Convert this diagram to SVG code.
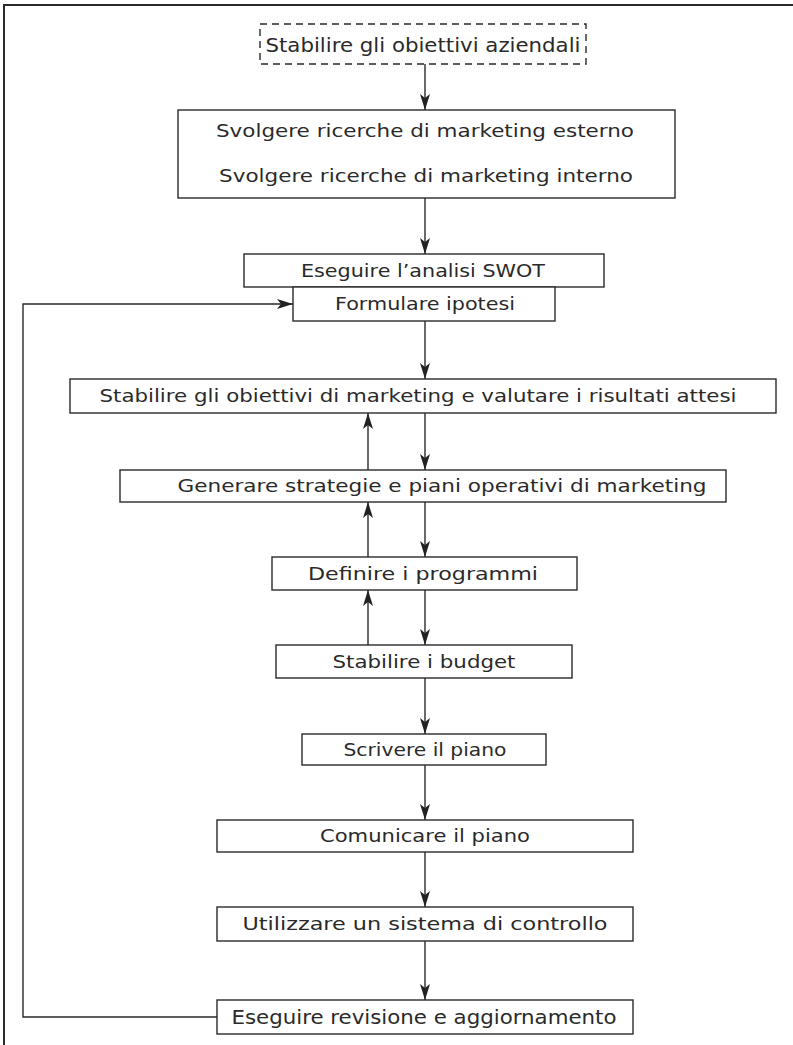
<svg xmlns="http://www.w3.org/2000/svg" width="793" height="1045" viewBox="0 0 793 1045">
<defs>
<style>
.box{fill:#fff;stroke:#2a2a2a;stroke-width:1.4}
.dash{fill:#fff;stroke:#2a2a2a;stroke-width:1.4;stroke-dasharray:7 5}
.t{font-family:"DejaVu Sans",sans-serif;font-size:17px;fill:#2a2a2a;text-anchor:middle;dominant-baseline:central}
.tc{font-family:"DejaVu Sans Condensed","DejaVu Sans",sans-serif;font-size:19px;fill:#2a2a2a;text-anchor:middle;dominant-baseline:central}
.c{fill:none;stroke:#2a2a2a;stroke-width:1.4}
.frame{fill:none;stroke:#2a2a2a;stroke-width:2}
</style>
<marker id="ah" viewBox="0 0 16 10" refX="16" refY="5" markerWidth="16" markerHeight="10" markerUnits="userSpaceOnUse" orient="auto">
<path d="M0,0 L16,5 L0,10 L4,5 Z" fill="#222"/>
</marker>
</defs>
<rect width="793" height="1045" fill="#fff"/>
<path class="frame" d="M4,1045 V5 H793"/>
<g id="connectors">
<line class="c" x1="425" y1="64" x2="425" y2="110" marker-end="url(#ah)"/>
<line class="c" x1="425" y1="198" x2="425" y2="254" marker-end="url(#ah)"/>
<line class="c" x1="425" y1="321" x2="425" y2="379" marker-end="url(#ah)"/>
<line class="c" x1="425" y1="413" x2="425" y2="470" marker-end="url(#ah)"/>
<line class="c" x1="368" y1="470" x2="368" y2="413" marker-end="url(#ah)"/>
<line class="c" x1="425" y1="502" x2="425" y2="557" marker-end="url(#ah)"/>
<line class="c" x1="368" y1="557" x2="368" y2="502" marker-end="url(#ah)"/>
<line class="c" x1="425" y1="590" x2="425" y2="645" marker-end="url(#ah)"/>
<line class="c" x1="368" y1="645" x2="368" y2="590" marker-end="url(#ah)"/>
<line class="c" x1="425" y1="678" x2="425" y2="734" marker-end="url(#ah)"/>
<line class="c" x1="425" y1="765" x2="425" y2="820" marker-end="url(#ah)"/>
<line class="c" x1="425" y1="852" x2="425" y2="907" marker-end="url(#ah)"/>
<line class="c" x1="425" y1="941" x2="425" y2="1000" marker-end="url(#ah)"/>
<polyline class="c" points="217,1017 23,1017 23,304 293,304" marker-end="url(#ah)"/>
</g>
<g id="n1"><rect class="dash" x="260" y="24" width="326" height="40"/><text class="tc" x="423" y="45" textLength="315" lengthAdjust="spacingAndGlyphs">Stabilire gli obiettivi aziendali</text></g>
<g id="n2"><rect class="box" x="178" y="110" width="497" height="88"/><text class="t" x="425" y="131" textLength="418" lengthAdjust="spacingAndGlyphs">Svolgere ricerche di marketing esterno</text><text class="t" x="426" y="176" textLength="414" lengthAdjust="spacingAndGlyphs">Svolgere ricerche di marketing interno</text></g>
<g id="n3"><rect class="box" x="244" y="254" width="360" height="33"/><text class="t" x="423" y="270.5" textLength="244" lengthAdjust="spacingAndGlyphs">Eseguire l’analisi SWOT</text></g>
<g id="n4"><rect class="box" x="293" y="287" width="262" height="34"/><text class="t" x="425" y="304" textLength="180" lengthAdjust="spacingAndGlyphs">Formulare ipotesi</text></g>
<g id="n5"><rect class="box" x="70" y="379" width="706" height="34"/><text class="t" x="418" y="396" textLength="637" lengthAdjust="spacingAndGlyphs">Stabilire gli obiettivi di marketing e valutare i risultati attesi</text></g>
<g id="n6"><rect class="box" x="120" y="470" width="606" height="32"/><text class="t" x="442" y="486" textLength="529" lengthAdjust="spacingAndGlyphs">Generare strategie e piani operativi di marketing</text></g>
<g id="n7"><rect class="box" x="272" y="557" width="305" height="33"/><text class="t" x="423" y="573.5" textLength="230" lengthAdjust="spacingAndGlyphs">Definire i programmi</text></g>
<g id="n8"><rect class="box" x="276" y="645" width="296" height="33"/><text class="t" x="424" y="661.5" textLength="183" lengthAdjust="spacingAndGlyphs">Stabilire i budget</text></g>
<g id="n9"><rect class="box" x="302" y="734" width="244" height="31"/><text class="t" x="425" y="749.5" textLength="163" lengthAdjust="spacingAndGlyphs">Scrivere il piano</text></g>
<g id="n10"><rect class="box" x="217" y="820" width="416" height="32"/><text class="t" x="425" y="836" textLength="210" lengthAdjust="spacingAndGlyphs">Comunicare il piano</text></g>
<g id="n11"><rect class="box" x="217" y="907" width="416" height="34"/><text class="t" x="425" y="924" textLength="365" lengthAdjust="spacingAndGlyphs">Utilizzare un sistema di controllo</text></g>
<g id="n12"><rect class="box" x="217" y="1000" width="416" height="34"/><text class="tc" x="424" y="1017" textLength="385" lengthAdjust="spacingAndGlyphs">Eseguire revisione e aggiornamento</text></g>
</svg>
